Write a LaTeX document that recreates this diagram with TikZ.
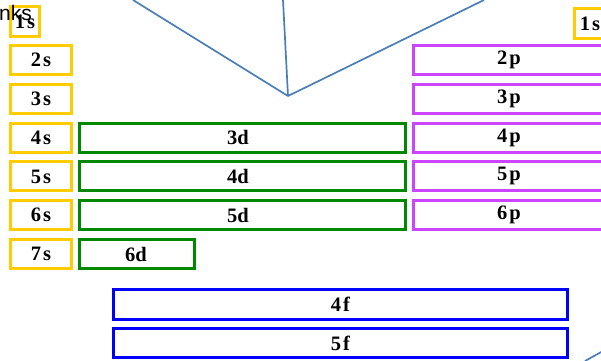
\documentclass[tikz,border=0pt]{standalone}
\usepackage{fontspec}
\setmainfont{Liberation Serif}
\newfontfamily\headfont{Liberation Sans}
\definecolor{sgold}{HTML}{FFCC00}
\definecolor{dgreen}{HTML}{008800}
\definecolor{pviolet}{HTML}{CC44FF}
\definecolor{fblue}{HTML}{0000FF}
\definecolor{guide}{HTML}{4A7EBB}
\tikzset{
  orb/.style={draw, line width=3pt, inner sep=0pt, font=\fontsize{20.5}{20.5}\selectfont\bfseries},
  sorb/.style={orb, draw=sgold, minimum width=61pt, minimum height=29pt},
  dorb/.style={orb, draw=dgreen, minimum height=29pt},
  porb/.style={orb, draw=pviolet, minimum width=191pt, minimum height=29pt},
  forb/.style={orb, draw=fblue, minimum width=454pt, minimum height=29pt},
  guideline/.style={draw=guide, line width=1.7pt}
}
\newcommand{\orbl}[2]{#1\kern2pt #2}
\begin{document}
\begin{tikzpicture}[x=1pt, y=-1pt]
\useasboundingbox (0,0) rectangle (601,360);

% guide lines meeting at a point above the d block
\coordinate (apex) at (288,96);
\coordinate (ga) at (133,0);
\coordinate (gb) at (283,0);
\coordinate (gc) at (484,0);
\coordinate (gd) at (585,361);
\coordinate (ge) at (603,351);
\draw[guideline] (ga) -- (apex);
\draw[guideline] (gb) -- (apex);
\draw[guideline] (gc) -- (apex);
\draw[guideline] (gd) -- (ge);

% s block
\node[sorb, minimum width=29pt, minimum height=30pt] (s1) at (25,21.5) {\orbl{1}{s}};
\node[sorb] (s2) at (41,60) {\orbl{2}{s}};
\node[sorb] (s3) at (41,98.8) {\orbl{3}{s}};
\node[sorb] (s4) at (41,137.6) {\orbl{4}{s}};
\node[sorb] (s5) at (41,176.4) {\orbl{5}{s}};
\node[sorb] (s6) at (41,215.2) {\orbl{6}{s}};
\node[sorb] (s7) at (41,254) {\orbl{7}{s}};

% helium
\node[sorb, minimum width=31.5pt, minimum height=30pt] (he) at (590,23.5) {\orbl{1}{s}};

% d block
\node[dorb, minimum width=326pt] (d3) at (242.5,137.6) {\kern-9pt 3d};
\node[dorb, minimum width=326pt] (d4) at (242.5,176.4) {\kern-9pt 4d};
\node[dorb, minimum width=326pt] (d5) at (242.5,215.2) {\kern-9pt 5d};
\node[dorb, minimum width=115pt] (d6) at (137,254) {\kern-2pt 6d};

% p block
\node[porb] (p2) at (509,60) {\orbl{2}{p}};
\node[porb] (p3) at (509,98.8) {\orbl{3}{p}};
\node[porb] (p4) at (509,137.6) {\orbl{4}{p}};
\node[porb] (p5) at (509,176.4) {\orbl{5}{p}};
\node[porb] (p6) at (509,215.2) {\orbl{6}{p}};

% f block
\node[forb, minimum height=30pt] (f4) at (340.5,304.5) {\orbl{4}{f}};
\node[forb] (f5) at (340.5,343) {\orbl{5}{f}};

% heading
\node[anchor=base west, inner sep=0pt, font=\headfont\fontsize{21}{21}\selectfont] (head) at (-1,20) {nks};
\end{tikzpicture}
\end{document}
